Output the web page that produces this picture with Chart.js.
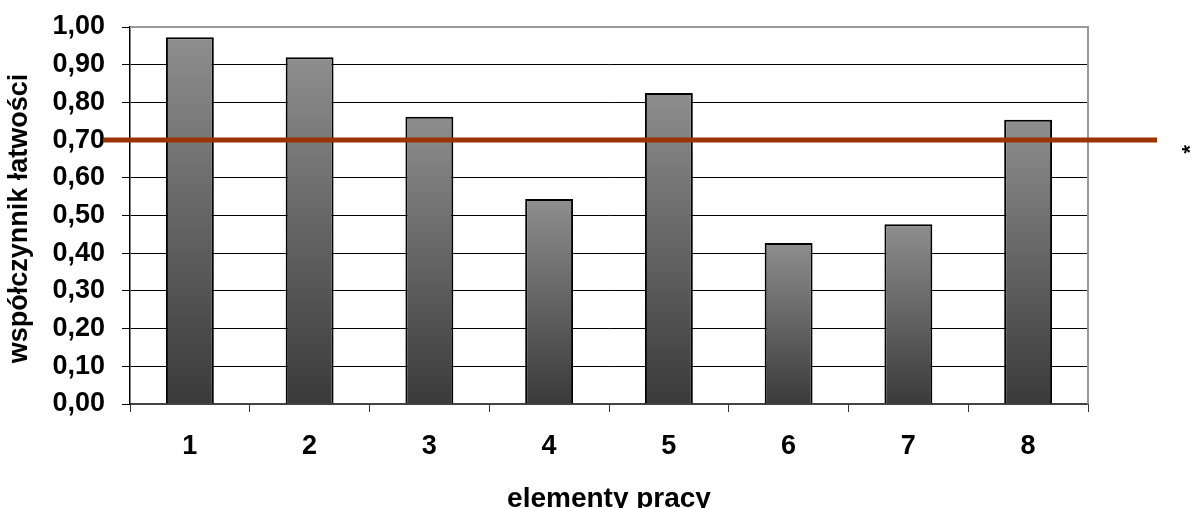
<!DOCTYPE html>
<html>
<head>
<meta charset="utf-8">
<script src="https://cdn.jsdelivr.net/npm/chart.js@4/dist/chart.umd.min.js"></script>
<style>
  html, body { margin: 0; padding: 0; background: #fff; }
  #wrap { width: 1194px; height: 508px; }
</style>
</head>
<body>
<div id="wrap"><canvas id="chart" width="1194" height="508"></canvas></div>
<script>
// data
const categories = ['1', '2', '3', '4', '5', '6', '7', '8'];
const values = [0.973, 0.920, 0.762, 0.544, 0.825, 0.427, 0.477, 0.754];
const yTickLabels = ['0,00', '0,10', '0,20', '0,30', '0,40', '0,50', '0,60', '0,70', '0,80', '0,90', '1,00'];
const threshold = 0.70;
const thresholdMark = '*';
const yTitle = 'współczynnik łatwości';
const xTitle = 'elementy pracy';

const FONT = "'Liberation Sans', Arial, sans-serif";

// bar fill: light grey at the top of each bar, dark at the base
function barGradient(ctx) {
    const chart = ctx.chart;
    if (!chart.chartArea || !ctx.parsed) return '#666';
    const y = chart.scales.y;
    const top = y.getPixelForValue(ctx.parsed.y);
    const base = y.getPixelForValue(0);
    const g = chart.ctx.createLinearGradient(0, top, 0, base);
    g.addColorStop(0, '#8e8e8e');
    g.addColorStop(1, '#3a3a3a');
    return g;
}

// grey frame on top/right, threshold line, its mark and the y title
const extras = {
    id: 'extras',
    afterDraw(chart) {
        const c = chart.ctx;
        const a = chart.chartArea;
        const yPos = chart.scales.y.getPixelForValue(threshold);
        c.save();
        c.strokeStyle = '#999';
        c.lineWidth = 2;
        c.beginPath();
        c.moveTo(a.left, a.top);
        c.lineTo(a.right, a.top);
        c.lineTo(a.right, a.bottom);
        c.stroke();

        c.strokeStyle = '#993300';
        c.lineWidth = 5;
        c.beginPath();
        c.moveTo(103, yPos);
        c.lineTo(1157, yPos);
        c.stroke();
        c.restore();

        c.save();
        c.translate(1191, yPos + 9);
        c.rotate(-Math.PI / 2);
        c.fillStyle = '#000';
        c.font = 'bold 22px ' + FONT;
        c.textAlign = 'center';
        c.textBaseline = 'middle';
        c.fillText(thresholdMark, 0, 0);
        c.restore();

        c.save();
        c.translate(20, (a.top + a.bottom) / 2 + 3);
        c.rotate(-Math.PI / 2);
        c.fillStyle = '#000';
        c.font = 'bold 27px ' + FONT;
        c.textAlign = 'center';
        c.textBaseline = 'middle';
        c.fillText(yTitle, 0, 0);
        c.restore();
    }
};

new Chart(document.getElementById('chart'), {
    type: 'bar',
    data: {
        labels: categories,
        datasets: [{
            data: values,
            backgroundColor: barGradient,
            borderColor: '#000',
            borderWidth: 2,
            borderSkipped: 'bottom',
            categoryPercentage: 1,
            barPercentage: 0.4
        }]
    },
    options: {
        responsive: false,
        animation: false,
        layout: { padding: { top: 27, right: 106, left: 0, bottom: 0 } },
        plugins: {
            legend: { display: false },
            tooltip: { enabled: false }
        },
        scales: {
            x: {
                offset: true,
                grid: {
                    offset: true,
                    drawOnChartArea: false,
                    drawTicks: true,
                    tickLength: 8,
                    color: '#333'
                },
                border: { color: '#444', width: 2 },
                ticks: {
                    color: '#000',
                    padding: 18,
                    font: { family: FONT, size: 27, weight: 'bold' }
                },
                title: {
                    display: true,
                    text: xTitle,
                    color: '#000',
                    padding: { top: 0, bottom: -5 },
                    font: { family: FONT, size: 28, weight: 'bold', lineHeight: 1 }
                },
                afterFit(scale) {
                    scale.height = 104;
                    scale.paddingLeft = 0;
                    scale.paddingRight = 0;
                }
            },
            y: {
                min: 0,
                max: 1,
                grid: {
                    color: '#000',
                    lineWidth: 1,
                    tickLength: 8
                },
                border: { color: '#000', width: 1.5 },
                ticks: {
                    stepSize: 0.1,
                    color: '#000',
                    padding: 17,
                    font: { family: FONT, size: 27, weight: 'bold' },
                    callback: (v, i) => yTickLabels[i]
                },
                afterFit(scale) {
                    scale.width = 130;
                    scale.paddingTop = 0;
                    scale.paddingBottom = 0;
                }
            }
        }
    },
    plugins: [extras]
});
</script>
</body>
</html>
